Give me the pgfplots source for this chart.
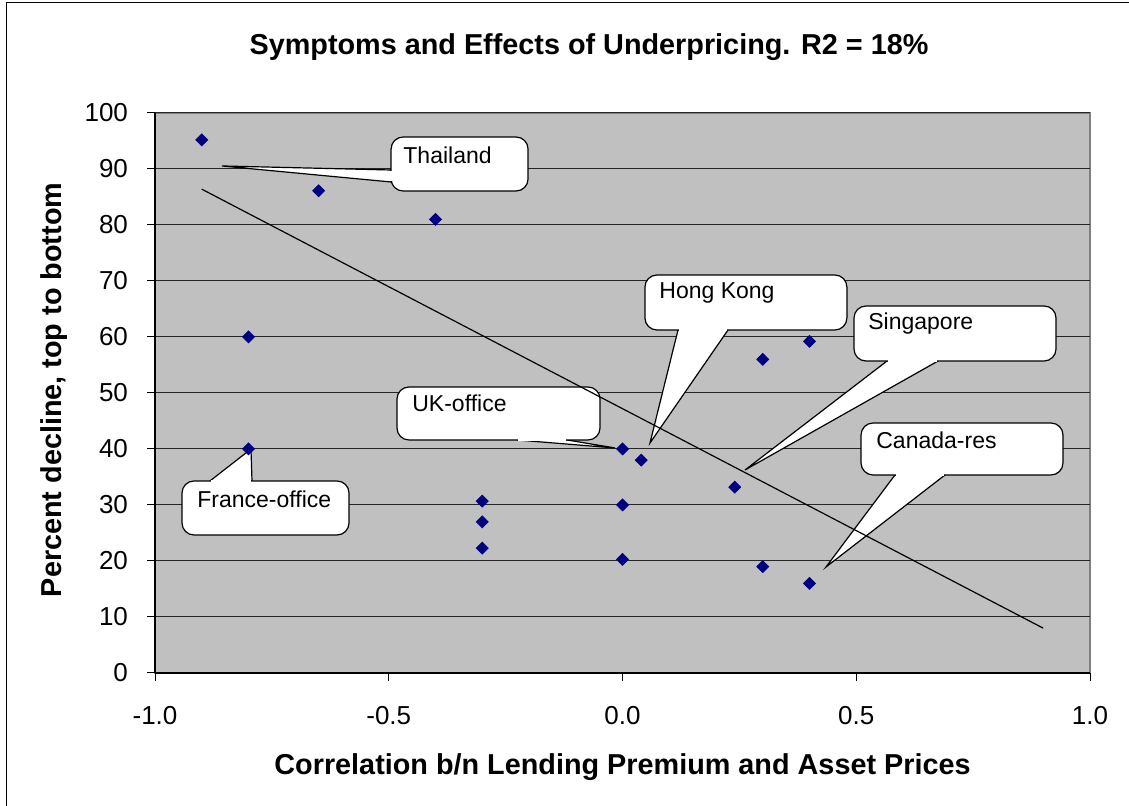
\documentclass[border=0pt]{standalone}
\usepackage{pgfplots}
\pgfplotsset{compat=1.18}
\usepackage{fontspec}
\setmainfont{Liberation Sans}
\definecolor{plotbg}{HTML}{C0C0C0}
\definecolor{navymark}{HTML}{000080}
\definecolor{frameg}{HTML}{808080}
\begin{document}
\begin{tikzpicture}[x=1pt,y=1pt]
\useasboundingbox (0,0) rectangle (564.5,403);
\draw[line width=0.8pt] (3.25,0) -- (3.25,401.75) -- (564.5,401.75);
\begin{axis}[
  at={(77.5pt,66.5pt)}, anchor=south west,
  scale only axis, width=467.5pt, height=280pt,
  xmin=-1, xmax=1, ymin=0, ymax=100,
  xtick={-1,-0.5,0,0.5,1},
  ytick={0,10,...,100},
  axis background/.style={fill=plotbg, draw=frameg, line width=0.6pt},
  axis x line*=bottom, axis y line*=left,
  axis line style={-, black, line width=0.6pt},
  ymajorgrids, major grid style={black!85, line width=0.5pt},
  tick align=outside, major tick length=4pt,
  tick style={black, line width=0.5pt},
  tick label style={font=\fontsize{13}{15}\selectfont},
  /pgf/number format/assume math mode=true,
  xticklabel style={yshift=-9pt, /pgf/number format/fixed, /pgf/number format/fixed zerofill, /pgf/number format/precision=1},
  yticklabel style={xshift=-6pt},
]
% Thailand
\draw[fill=white, line width=0.6pt] (-0.857,90.54) -- (-0.495,89.82) -- (-0.495,87.68) -- cycle;
\draw[fill=white, line width=0.6pt, rounded corners=6pt] (-0.495,86.07) rectangle (-0.202,95.71);
\draw[white, line width=1.1pt, shorten <=0.4pt, shorten >=0.4pt] (-0.495,89.82) -- (-0.495,87.68);
\node[anchor=west, inner sep=0pt, font=\fontsize{11.5}{13}\selectfont] at (-0.4695,92.5) {Thailand};
% Hong Kong
\draw[fill=white, line width=0.6pt] (0.0588,41.07) -- (0.1187,61.25) -- (0.2257,61.25) -- cycle;
\draw[fill=white, line width=0.6pt, rounded corners=6pt] (0.048,61.25) rectangle (0.480,71.07);
\draw[white, line width=1.1pt, shorten <=0.4pt, shorten >=0.4pt] (0.1187,61.25) -- (0.2257,61.25);
\node[anchor=west, inner sep=0pt, font=\fontsize{11.5}{13}\selectfont] at (0.0781,67.86) {Hong Kong};
% Singapore
\draw[fill=white, line width=0.6pt] (0.262,36.25) -- (0.5658,55.71) -- (0.6749,55.71) -- cycle;
\draw[fill=white, line width=0.6pt, rounded corners=6pt] (0.4952,55.71) rectangle (0.9273,65.54);
\draw[white, line width=1.1pt, shorten <=0.4pt, shorten >=0.4pt] (0.5658,55.71) -- (0.6749,55.71);
\node[anchor=west, inner sep=0pt, font=\fontsize{11.5}{13}\selectfont] at (0.5251,62.32) {Singapore};
% Canada-res
\draw[fill=white, line width=0.6pt] (0.4353,18.93) -- (0.5829,35.36) -- (0.6898,35.36) -- cycle;
\draw[fill=white, line width=0.6pt, rounded corners=6pt] (0.5102,35.36) rectangle (0.9422,44.64);
\draw[white, line width=1.1pt, shorten <=0.4pt, shorten >=0.4pt] (0.5829,35.36) -- (0.6898,35.36);
\node[anchor=west, inner sep=0pt, font=\fontsize{11.5}{13}\selectfont] at (0.5422,41.61) {Canada-res};
% UK-office
\draw[fill=white, line width=0.6pt] (-0.016,40.18) -- (-0.2257,41.61) -- (-0.1187,41.61) -- cycle;
\draw[fill=white, line width=0.6pt, rounded corners=6pt] (-0.4824,41.61) rectangle (-0.0481,51.07);
\draw[white, line width=1.1pt, shorten <=0.4pt, shorten >=0.4pt] (-0.2257,41.61) -- (-0.1187,41.61);
\node[anchor=west, inner sep=0pt, font=\fontsize{11.5}{13}\selectfont] at (-0.4503,48.21) {UK-office};
% France-office
\draw[fill=white, line width=0.6pt] (-0.7947,40.0) -- (-0.8824,34.29) -- (-0.7925,34.29) -- cycle;
\draw[fill=white, line width=0.6pt, rounded corners=6pt] (-0.9422,24.64) rectangle (-0.585,34.29);
\draw[white, line width=1.1pt, shorten <=0.4pt, shorten >=0.4pt] (-0.8824,34.29) -- (-0.7925,34.29);
\node[anchor=west, inner sep=0pt, font=\fontsize{11.5}{13}\selectfont] at (-0.9102,31.07) {France-office};
% trend line
\addplot[black, line width=0.6pt, no marks] coordinates {(-0.9,86.4) (0.9,8.0)};
% data
\addplot[only marks, mark=square*, mark size=2.1pt, mark options={rotate=45, fill=navymark, draw=navymark}] coordinates {
(-0.9,95.2) (-0.65,86.1) (-0.4,81.0) (-0.8,60.0) (-0.8,40.0)
(-0.3,30.7) (-0.3,27.0) (-0.3,22.3)
(0,40.0) (0.04,38.0) (0,30.0) (0,20.3)
(0.24,33.2) (0.3,56.0) (0.3,19.0) (0.4,59.2) (0.4,16.0)
};
\end{axis}
\node[font=\bfseries\fontsize{14.4}{17}\selectfont] at (294.5,379.5) {Symptoms and Effects of Underpricing. R2 = 18\%};
\node[font=\bfseries\fontsize{14.4}{17}\selectfont, anchor=base] at (311.25,15.5) {Correlation b/n Lending Premium and Asset Prices};
\node[font=\bfseries\fontsize{14.4}{17}\selectfont, anchor=base, rotate=90] at (31,208) {Percent decline, top to bottom};
\end{tikzpicture}
\end{document}
